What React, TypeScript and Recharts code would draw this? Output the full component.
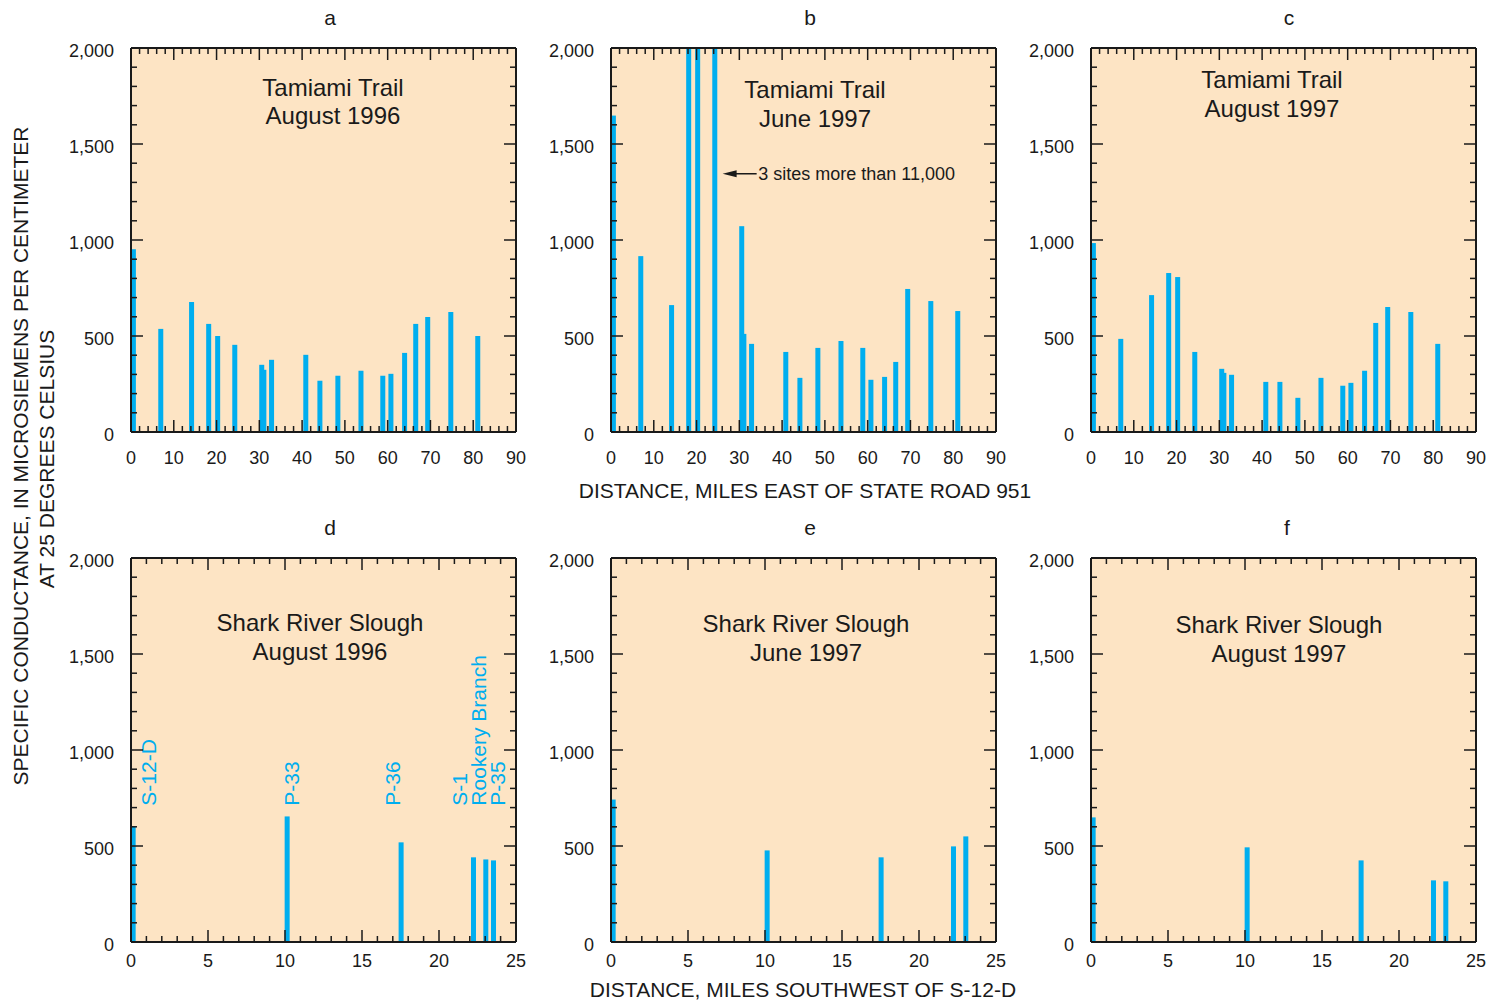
import React from "react";
import {
  BarChart,
  Bar,
  XAxis,
  YAxis,
  CartesianGrid,
  ReferenceDot,
} from "recharts";

const FONT = '"Liberation Sans", Arial, Helvetica, sans-serif';
const INK = "#1a1a1a";
const BAR = "#00AEEF";
const PAPER = "#FDE4C4";

// Tamiami Trail sites, miles east of State Road 951 (upstream edge of each bar)
const trailMiles = [
  0, 6.4, 13.6, 17.6, 19.7, 23.7, 30.0, 30.5, 32.3, 40.3, 43.6, 47.8, 53.2,
  58.3, 60.2, 63.4, 66.0, 68.8, 74.2, 80.5,
];
const trailAug1996 = [
  952, 537, 677, 563, 500, 454, 350, 324, 376, 402, 267, 293, 319, 293, 303,
  412, 563, 599, 625, 500,
];
// three sites were reported as more than 11,000 and run off the scale
const trailJun1997 = [
  1648, 916, 661, 11500, 11500, 11500, 1072, 511, 459, 417, 282, 438, 474, 438,
  272, 287, 365, 745, 682, 630,
];
const trailAug1997 = [
  984, 485, 713, 828, 807, 417, 329, 308, 298, 261, 261, 178, 282, 241, 256,
  319, 568, 651, 625, 459,
];

// Shark River Slough sites, miles southwest of S-12-D
const sloughSites = ["S-12-D", "P-33", "P-36", "S-1", "Rookery Branch", "P-35"];
const sloughMiles = [0, 10.0, 17.4, 22.1, 22.9, 23.4];
const sloughLabelMiles = [1.14, 10.42, 16.98, 21.3, 22.58, 23.8];
const sloughAug1996 = [602, 654, 519, 441, 430, 425];
const sloughJun1997 = [742, 477, 441, 498, 550, null];
const sloughAug1997 = [649, 493, 425, 321, 316, null];

const trailTicks = Array.from({ length: 46 }, (_, i) => i * 2);
const sloughTicks = Array.from({ length: 26 }, (_, i) => i);
const yTicks = Array.from({ length: 21 }, (_, i) => i * 100);

const PLOT_W = 385;
const PLOT_H = 384;
const MARGIN = { top: 9, right: 9, bottom: 10, left: 20 };
const Y_AXIS_W = 60;
const X_AXIS_H = 40;
const EDGE = 1; // width of the tick-only top and right axes
const CHART_W = MARGIN.left + Y_AXIS_W + PLOT_W + EDGE + MARGIN.right;
const CHART_H = MARGIN.top + EDGE + PLOT_H + X_AXIS_H + MARGIN.bottom;

const TICK_STROKE = 1.5;
const FRAME = { stroke: INK, strokeWidth: 2 };

const bottomTick = (step: number, labelDy: number) => (p: any) => {
  const v = p.payload.value;
  const major = v % step === 0;
  return (
    <g>
      <line x1={p.x} x2={p.x} y1={p.y} y2={p.y - (major ? 12 : 6)} stroke={INK} strokeWidth={TICK_STROKE} />
      {major && (
        <text x={p.x} y={p.y + labelDy} textAnchor="middle" fontSize={18} fontFamily={FONT} fill={INK}>
          {v}
        </text>
      )}
    </g>
  );
};

const topTick = (step: number) => (p: any) => {
  const major = p.payload.value % step === 0;
  return <line x1={p.x} x2={p.x} y1={p.y} y2={p.y + (major ? 12 : 6)} stroke={INK} strokeWidth={TICK_STROKE} />;
};

const leftTick = (p: any) => {
  const v = p.payload.value;
  const major = v % 500 === 0;
  return (
    <g>
      <line x1={p.x} x2={p.x + (major ? 12 : 6)} y1={p.y} y2={p.y} stroke={INK} strokeWidth={TICK_STROKE} />
      {major && (
        <text
          x={p.x - 17}
          y={p.y + 3}
          textAnchor="end"
          dominantBaseline="central"
          fontSize={18}
          fontFamily={FONT}
          fill={INK}
        >
          {v.toLocaleString("en-US")}
        </text>
      )}
    </g>
  );
};

const rightTick = (p: any) => {
  const major = p.payload.value % 500 === 0;
  return <line x1={p.x} x2={p.x - (major ? 12 : 6)} y1={p.y} y2={p.y} stroke={INK} strokeWidth={TICK_STROKE} />;
};

// bars start at the site distance and are a fixed 5px wide
const siteBar = (props: any) => {
  const { x, y, width, height } = props;
  if (height == null || !(height > 0)) return <g />;
  return <rect x={x + width / 2} y={y} width={5} height={height} fill={BAR} />;
};

const offScaleNote = (props: any) => {
  const { cx, cy } = props;
  return (
    <g>
      <polygon points={`${cx},${cy} ${cx + 14},${cy - 3.5} ${cx + 14},${cy + 3.5}`} fill={INK} />
      <line x1={cx + 12} x2={cx + 34} y1={cy} y2={cy} stroke={INK} strokeWidth={1.5} />
      <text x={cx + 35.5} y={cy} dy="0.36em" fontSize={18} fontFamily={FONT} fill={INK}>
        3 sites more than 11,000
      </text>
    </g>
  );
};

const siteLabel = (name: string) => (props: any) => {
  const { cx, cy } = props;
  return (
    <text
      x={cx}
      y={cy}
      dy="0.36em"
      transform={`rotate(-90 ${cx} ${cy})`}
      fontSize={21}
      fontFamily={FONT}
      fill={BAR}
    >
      {name}
    </text>
  );
};

interface PanelProps {
  left: number;
  top: number;
  xs: number[];
  ys: (number | null)[];
  xMax: number;
  ticks: number[];
  major: number;
  labelDy: number;
  children?: React.ReactNode;
}

function Panel({ left, top, xs, ys, xMax, ticks, major, labelDy, children }: PanelProps) {
  const rows = xs.map((x, i) => ({ x, v: ys[i] }));
  return (
    <div
      style={{
        position: "absolute",
        left: left - MARGIN.left - Y_AXIS_W,
        top: top - MARGIN.top - EDGE,
      }}
    >
      <BarChart width={CHART_W} height={CHART_H} data={rows} margin={MARGIN} barSize={5}>
        <CartesianGrid fill={PAPER} fillOpacity={1} horizontal={false} vertical={false} stroke="none" />
        <XAxis
          dataKey="x"
          type="number"
          domain={[0, xMax]}
          ticks={ticks}
          interval={0}
          allowDataOverflow
          height={X_AXIS_H}
          tickSize={0}
          tickMargin={0}
          tickLine={false}
          axisLine={FRAME}
          tick={bottomTick(major, labelDy)}
        />
        <XAxis
          xAxisId="top"
          dataKey="x"
          orientation="top"
          type="number"
          domain={[0, xMax]}
          ticks={ticks}
          interval={0}
          allowDataOverflow
          height={EDGE}
          tickSize={0}
          tickMargin={0}
          tickLine={false}
          axisLine={FRAME}
          tick={topTick(major)}
        />
        <YAxis
          type="number"
          domain={[0, 2000]}
          ticks={yTicks}
          interval={0}
          allowDataOverflow
          width={Y_AXIS_W}
          tickSize={0}
          tickMargin={0}
          tickLine={false}
          axisLine={FRAME}
          tick={leftTick}
        />
        <YAxis
          yAxisId="right"
          orientation="right"
          type="number"
          domain={[0, 2000]}
          ticks={yTicks}
          interval={0}
          allowDataOverflow
          width={EDGE}
          tickSize={0}
          tickMargin={0}
          tickLine={false}
          axisLine={FRAME}
          tick={rightTick}
        />
        <Bar dataKey="v" fill={BAR} shape={siteBar} isAnimationActive={false} />
        {/* empty series that keeps the top and right frame axes alive */}
        <Bar xAxisId="top" yAxisId="right" dataKey="frame" isAnimationActive={false} />
        {children}
      </BarChart>
    </div>
  );
}

const titleStyle = { fontFamily: FONT, fill: INK };

export default function App() {
  const sloughLabels = sloughSites.map((name, i) => (
    <ReferenceDot
      key={name}
      x={sloughLabelMiles[i]}
      y={710}
      r={0}
      shape={siteLabel(name)}
    />
  ));

  return (
    <div style={{ position: "absolute", left: 0, top: 0, width: 1500, height: 1000, background: "#fff" }}>
      <Panel left={131} top={48} xs={trailMiles} ys={trailAug1996} xMax={90} ticks={trailTicks} major={10} labelDy={32} />
      <Panel left={611} top={48} xs={trailMiles} ys={trailJun1997} xMax={90} ticks={trailTicks} major={10} labelDy={32}>
        <ReferenceDot x={26.1} y={1345} r={0} shape={offScaleNote} />
      </Panel>
      <Panel left={1091} top={48} xs={trailMiles} ys={trailAug1997} xMax={90} ticks={trailTicks} major={10} labelDy={32} />
      <Panel left={131} top={558} xs={sloughMiles} ys={sloughAug1996} xMax={25} ticks={sloughTicks} major={5} labelDy={25}>
        {sloughLabels}
      </Panel>
      <Panel left={611} top={558} xs={sloughMiles} ys={sloughJun1997} xMax={25} ticks={sloughTicks} major={5} labelDy={25} />
      <Panel left={1091} top={558} xs={sloughMiles} ys={sloughAug1997} xMax={25} ticks={sloughTicks} major={5} labelDy={25} />

      <svg
        width={1500}
        height={1000}
        style={{ position: "absolute", left: 0, top: 0, pointerEvents: "none" }}
      >
        <g fontSize={21} textAnchor="middle" {...titleStyle}>
          <text x={330} y={25}>a</text>
          <text x={810} y={25}>b</text>
          <text x={1289} y={25}>c</text>
          <text x={330} y={535}>d</text>
          <text x={810} y={535}>e</text>
          <text x={1287} y={535}>f</text>
        </g>

        <g fontSize={24} textAnchor="middle" {...titleStyle}>
          <text x={333} y={96}>Tamiami Trail</text>
          <text x={333} y={124}>August 1996</text>
          <text x={815} y={98}>Tamiami Trail</text>
          <text x={815} y={127}>June 1997</text>
          <text x={1272} y={88}>Tamiami Trail</text>
          <text x={1272} y={117}>August 1997</text>
          <text x={320} y={631}>Shark River Slough</text>
          <text x={320} y={660}>August 1996</text>
          <text x={806} y={632}>Shark River Slough</text>
          <text x={806} y={661}>June 1997</text>
          <text x={1279} y={633}>Shark River Slough</text>
          <text x={1279} y={662}>August 1997</text>
        </g>

        <g fontSize={21} textAnchor="middle" {...titleStyle}>
          <text x={805} y={498}>DISTANCE, MILES EAST OF STATE ROAD 951</text>
          <text x={803} y={997}>DISTANCE, MILES SOUTHWEST OF S-12-D</text>
          <text x={28} y={456} transform="rotate(-90 28 456)">
            SPECIFIC CONDUCTANCE, IN MICROSIEMENS PER CENTIMETER
          </text>
          <text x={54} y={459} transform="rotate(-90 54 459)">
            AT 25 DEGREES CELSIUS
          </text>
        </g>
      </svg>
    </div>
  );
}
